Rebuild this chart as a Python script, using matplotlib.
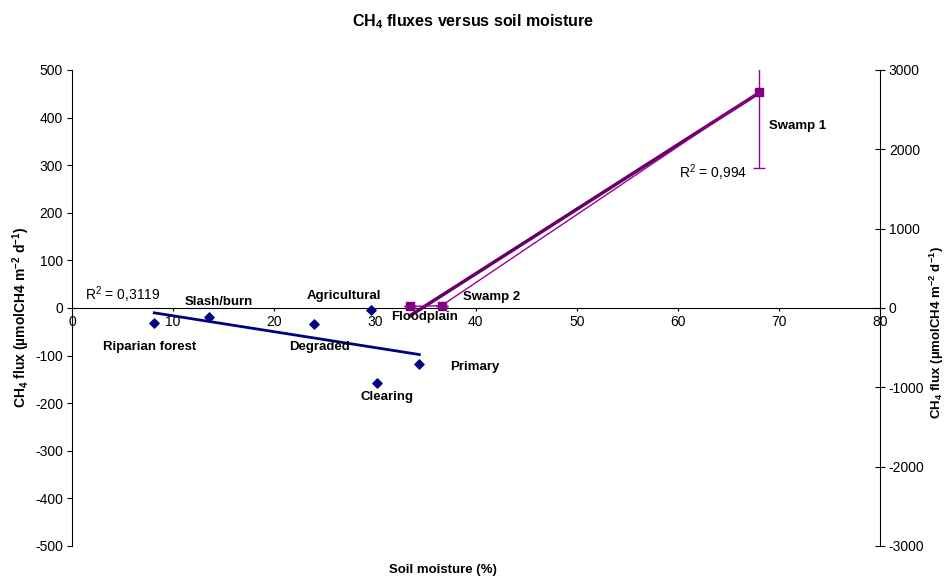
import numpy as np
import matplotlib
matplotlib.use("Agg")
import matplotlib.pyplot as plt

plt.rcParams['font.family'] = ['Liberation Sans', 'DejaVu Sans']
plt.rcParams['mathtext.fontset'] = 'custom'
plt.rcParams['mathtext.rm'] = 'Liberation Sans'
plt.rcParams['mathtext.bf'] = 'Liberation Sans:bold'
plt.rcParams['mathtext.it'] = 'Liberation Sans:italic'
plt.rcParams['axes.unicode_minus'] = False

# upland sites, left axis
dry_sites = ["Riparian forest", "Slash/burn", "Degraded", "Agricultural", "Clearing", "Primary"]
dry_moist = [8.15, 13.6, 24.0, 29.6, 30.2, 34.4]
dry_flux = [-31.5, -19.1, -33.7, -5.2, -156.9, -118.7]

# wet sites, right axis
wet_sites = ["Floodplain", "Swamp 2", "Swamp 1"]
wet_moist = [33.5, 36.6, 68.0]
wet_flux = [20, 29, 2719]
wet_err = [0, 0, 958]

r2_labels = ["R$^\\mathrm{2}$ = 0,3119", "R$^\\mathrm{2}$ = 0,994"]

navy = "#000080"
purple = "#990099"
dark_purple = "#660066"

fig = plt.figure(figsize=(9.47, 5.78), dpi=100)
ax = fig.add_axes([0.076, 0.0554, 0.853, 0.8235])
ax2 = ax.twinx()

# left axis
ax.set_xlim(0, 80)
ax.set_ylim(-500, 500)
ax.spines['bottom'].set_position(('data', 0))
ax.spines['top'].set_visible(False)
ax.spines['right'].set_visible(False)
ax.set_xticks(range(0, 90, 10))
ax.set_yticks(range(-500, 600, 100))
ax.tick_params(axis='x', direction='out', length=2.5, pad=2.5, labelsize=10)
ax.tick_params(axis='y', direction='out', length=3.5, pad=3, labelsize=10)

# right axis
ax2.set_ylim(-3000, 3000)
ax2.set_yticks(range(-3000, 4000, 1000))
for s in ['top', 'left', 'bottom']:
    ax2.spines[s].set_visible(False)
ax2.tick_params(axis='y', direction='inout', length=7, pad=3, labelsize=10)

# blue series + trend
ax.scatter(dry_moist, dry_flux, marker='D', s=22, color=navy, zorder=4)
p = np.polyfit(dry_moist, dry_flux, 1)
xs = np.array([min(dry_moist), max(dry_moist)])
ax.plot(xs, np.polyval(p, xs), color=navy, lw=2, zorder=3)

# purple series + trend
ax2.errorbar(wet_moist, wet_flux, yerr=wet_err, color=purple, lw=1,
             marker='s', ms=6, mfc="#800080", mec="#800080", capsize=4,
             elinewidth=1, zorder=4)
q = np.polyfit(wet_moist, wet_flux, 1)
xw = np.array([min(wet_moist), max(wet_moist)])
ax2.plot(xw, np.polyval(q, xw), color=dark_purple, lw=2.5, zorder=3)

# point labels
dry_lab_xy = [(7.7, -82), (14.55, 13), (24.5, -83), (26.96, 26), (31.2, -186), (39.9, -125)]
for name, (tx, ty) in zip(dry_sites, dry_lab_xy):
    ax.text(tx, ty, name, ha='center', va='center', fontsize=9.5, fontweight='bold')
wet_lab_xy = [(34.9, -117), (41.6, 142), (71.9, 2298)]
for name, (tx, ty) in zip(wet_sites, wet_lab_xy):
    ax2.text(tx, ty, name, ha='center', va='center', fontsize=9.5, fontweight='bold')

ax.text(1.3, 27, r2_labels[0], ha='left', va='center', fontsize=10)
ax2.text(60.1, 1705, r2_labels[1], ha='left', va='center', fontsize=10)

fig.text(0.5, 0.962, "CH$_\\mathbf{4}$ fluxes versus soil moisture",
         ha='center', va='center', fontsize=11.5, fontweight='bold')
fig.text(0.468, 0.013, "Soil moisture (%)", ha='center', va='center',
         fontsize=9.5, fontweight='bold')
ylab = "CH$_\\mathbf{4}$ flux (µmolCH4 m$^\\mathbf{-2}$ d$^\\mathbf{-1}$)"
fig.text(0.022, 0.45, ylab, rotation=90, ha='center', va='center',
         fontsize=10, fontweight='bold')
fig.text(0.989, 0.424, ylab, rotation=90, ha='center', va='center',
         fontsize=9.5, fontweight='bold')

fig.savefig("out.png", dpi=100)
